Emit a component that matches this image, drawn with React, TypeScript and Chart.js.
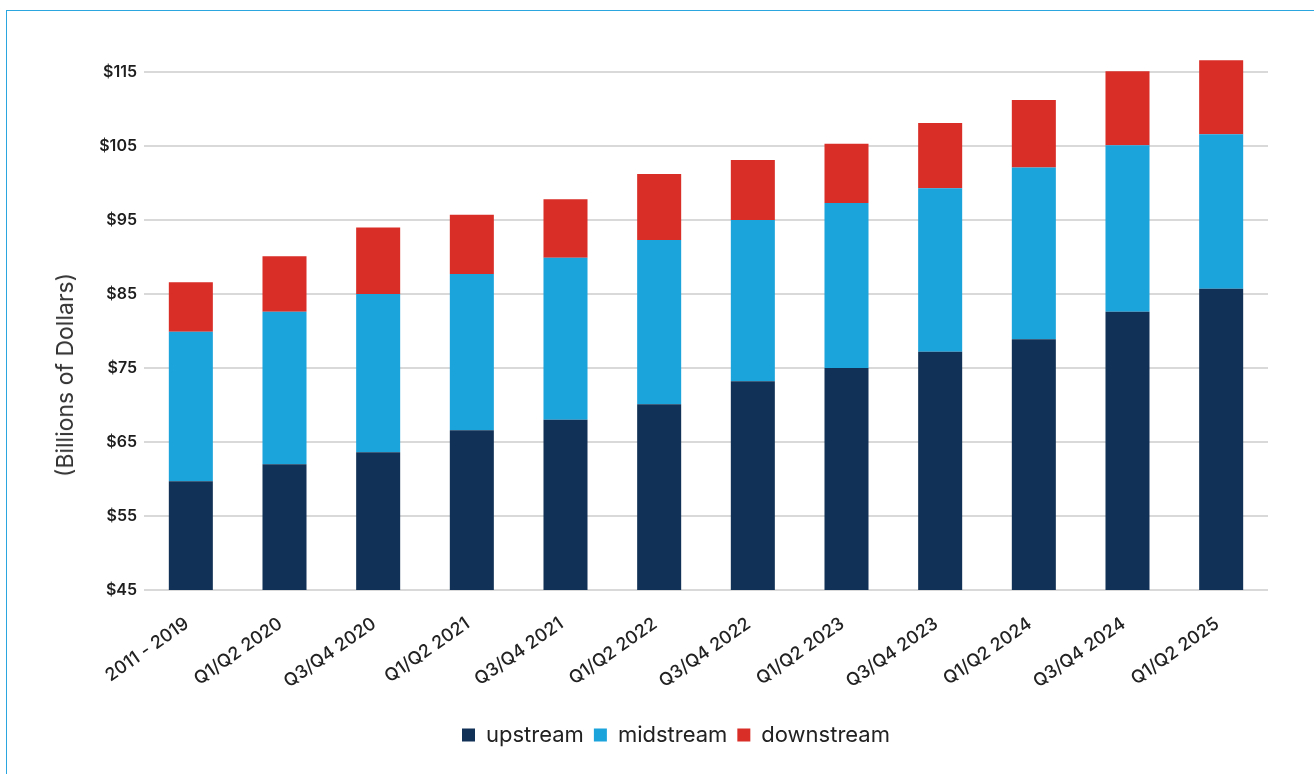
import { useEffect, useRef } from 'react'
import { Chart, registerables } from 'chart.js'

Chart.register(...registerables)

const periods = [
  '2011 - 2019', 'Q1/Q2 2020', 'Q3/Q4 2020', 'Q1/Q2 2021', 'Q3/Q4 2021', 'Q1/Q2 2022',
  'Q3/Q4 2022', 'Q1/Q2 2023', 'Q3/Q4 2023', 'Q1/Q2 2024', 'Q3/Q4 2024', 'Q1/Q2 2025',
]
const upstream = [59.7, 62.0, 63.6, 66.6, 68.0, 70.1, 73.2, 75.0, 77.2, 78.9, 82.6, 85.7]
const midstream = [20.2, 20.6, 21.4, 21.1, 21.9, 22.2, 21.8, 22.3, 22.1, 23.2, 22.5, 20.9]
const downstream = [6.7, 7.5, 9.0, 8.0, 7.9, 8.9, 8.1, 8.0, 8.8, 9.1, 10.0, 10.0]
const yTicks = [45, 55, 65, 75, 85, 95, 105, 115]

const FONT = 'Inter, "Noto Sans", sans-serif'

const App = () => {
  const canvasRef = useRef<HTMLCanvasElement | null>(null)

  useEffect(() => {
    if (!canvasRef.current) return
    const chart = new Chart(canvasRef.current, {
      type: 'bar',
      data: {
        labels: periods,
        datasets: [
          { label: 'upstream', data: upstream, backgroundColor: '#123157' },
          { label: 'midstream', data: midstream, backgroundColor: '#1ba3dc' },
          { label: 'downstream', data: downstream, backgroundColor: '#d92d27' },
        ],
      },
      options: {
        animation: false,
        responsive: true,
        maintainAspectRatio: false,
        layout: { padding: { left: 84, right: 46, top: 35, bottom: 18 } },
        datasets: { bar: { barPercentage: 0.47, categoryPercentage: 1 } },
        scales: {
          x: {
            stacked: true,
            grid: { display: false },
            border: { display: false },
            ticks: {
              minRotation: 35,
              maxRotation: 35,
              padding: 15,
              labelOffset: -4,
              color: '#222',
              font: { family: FONT, size: 18, weight: 500 },
            },
            afterFit: (s: any) => { s.height = 124 },
          },
          y: {
            stacked: true,
            min: 45,
            max: 120,
            afterBuildTicks: (s: any) => { s.ticks = yTicks.map(v => ({ value: v })) },
            grid: { color: '#d9d9d9', lineWidth: 2, drawTicks: false },
            border: { display: false },
            ticks: {
              padding: 7,
              color: '#1e1e1e',
              font: { family: FONT, size: 16, weight: 600 },
              callback: (v: any) => `$${v}`,
            },
            afterFit: (s: any) => { s.width = 60 },
          },
        },
        plugins: {
          legend: {
            position: 'bottom',
            labels: {
              boxWidth: 13,
              boxHeight: 13,
              padding: 10,
              color: '#222',
              font: { family: FONT, size: 22 },
            },
          },
          tooltip: { enabled: false },
        },
      },
    })
    return () => chart.destroy()
  }, [])

  return (
    <div style={{ position: 'fixed', left: 0, top: 0, width: 1314, height: 774, background: '#fff', overflow: 'hidden' }}>
      <div style={{ position: 'absolute', left: 6, top: 10, width: 1400, height: 900, borderLeft: '1px solid #2ba6df', borderTop: '1px solid #2ba6df' }} />
      <div style={{ position: 'absolute', left: 0, top: 0, width: 1314, height: 774 }}>
        <canvas ref={canvasRef} />
      </div>
      <div
        style={{
          position: 'absolute', left: 65, top: 375, transform: 'translate(-50%, -50%) rotate(-90deg)',
          whiteSpace: 'nowrap', fontFamily: FONT, fontSize: 23, color: '#333',
        }}
      >
        (Billions of Dollars)
      </div>
    </div>
  )
}

export default App
